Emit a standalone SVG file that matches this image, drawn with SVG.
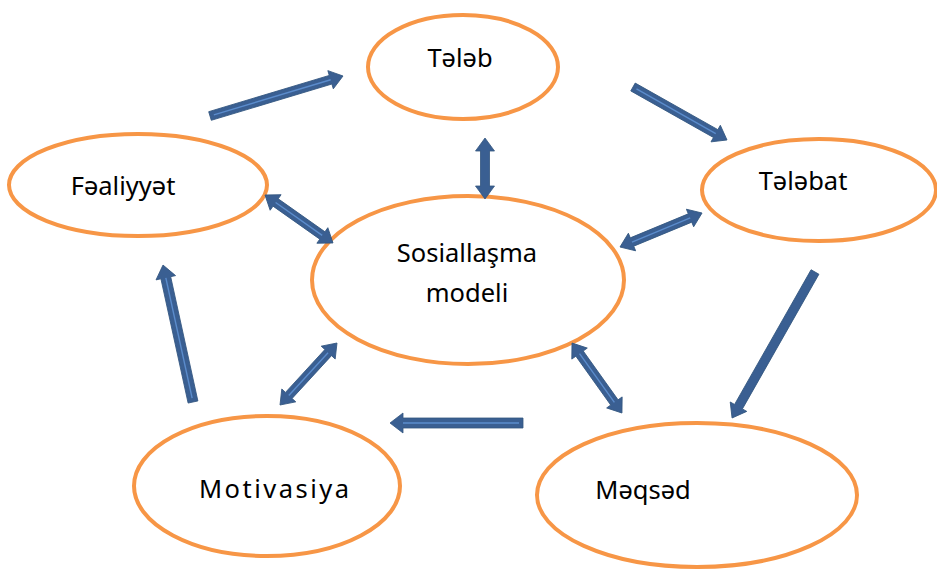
<svg xmlns="http://www.w3.org/2000/svg" width="937" height="573" viewBox="0 0 937 573">
<style>
.node ellipse{fill:#fff;stroke:#f79646;stroke-width:4}
.node text{font-family:"Noto Sans","Open Sans","Liberation Sans",sans-serif;font-size:25.5px;fill:#000;text-anchor:middle}
.arr polygon{fill:#3a5f92;stroke:#33567f;stroke-width:0.8}
.arr line{stroke:#5b8ccc;stroke-width:1.4}
</style>
<rect width="937" height="573" fill="#fff"/>
<g id="talab" class="node"><ellipse cx="463" cy="67" rx="95" ry="52"/><text x="460" y="67">Tələb</text></g>
<g id="faaliyyat" class="node"><ellipse cx="138" cy="185" rx="129" ry="51"/><text x="123" y="195">Fəaliyyət</text></g>
<g id="talabat" class="node"><ellipse cx="819" cy="190" rx="117" ry="51"/><text x="803" y="190">Tələbat</text></g>
<g id="sosial" class="node"><ellipse cx="468" cy="280" rx="156" ry="84"/><text x="467" y="262">Sosiallaşma</text><text x="467" y="302">modeli</text></g>
<g id="motivasiya" class="node"><ellipse cx="267" cy="486" rx="133" ry="70"/><text x="274" y="498" font-size="27" textLength="150" lengthAdjust="spacing">Motivasiya</text></g>
<g id="maqsad" class="node"><ellipse cx="697" cy="495" rx="160" ry="72"/><text x="643" y="499">Məqsəd</text></g>
<g id="connectors" class="arr">
<g transform="translate(210,116) rotate(-16.74)"><polygon points="0,-4.5 125.9,-4.5 125.9,-9.5 138.9,0 125.9,9.5 125.9,4.5 0,4.5"/><line x1="4" y1="0" x2="126" y2="0"/></g>
<g transform="translate(265,195) rotate(35.2)"><polygon points="0,0 13,-9.5 13,-4.5 70.2,-4.5 70.2,-9.5 83.2,0 70.2,9.5 70.2,4.5 13,4.5 13,9.5"/><line x1="13" y1="0" x2="70" y2="0"/></g>
<g transform="translate(485,138) rotate(90)"><polygon points="0,0 13,-9.5 13,-4.5 48,-4.5 48,-9.5 61,0 48,9.5 48,4.5 13,4.5 13,9.5"/></g>
<g transform="translate(633,87) rotate(29.4)"><polygon points="0,-4.5 94.9,-4.5 94.9,-9.5 107.9,0 94.9,9.5 94.9,4.5 0,4.5"/><line x1="4" y1="0" x2="95" y2="0"/></g>
<g transform="translate(620,247) rotate(-22.5)"><polygon points="0,0 13,-9.5 13,-4.5 75.8,-4.5 75.8,-9.5 88.8,0 75.8,9.5 75.8,4.5 13,4.5 13,9.5"/><line x1="13" y1="0" x2="76" y2="0"/></g>
<g transform="translate(815,272) rotate(119.6)"><polygon points="0,-4.5 154.9,-4.5 154.9,-9.5 167.9,0 154.9,9.5 154.9,4.5 0,4.5"/></g>
<g transform="translate(572,343) rotate(54.5)"><polygon points="0,0 13,-9.5 13,-4.5 73,-4.5 73,-9.5 86,0 73,9.5 73,4.5 13,4.5 13,9.5"/><line x1="13" y1="0" x2="73" y2="0"/></g>
<g transform="translate(523,423) rotate(180)"><polygon points="0,-5 120,-5 120,-10 133,0 120,10 120,5 0,5"/><line x1="4" y1="0" x2="120" y2="0"/></g>
<g transform="translate(280,405) rotate(-47.4)"><polygon points="0,0 13,-9.5 13,-4.5 71.2,-4.5 71.2,-9.5 84.2,0 71.2,9.5 71.2,4.5 13,4.5 13,9.5"/><line x1="13" y1="0" x2="71" y2="0"/></g>
<g transform="translate(193,402) rotate(-102.35)"><polygon points="0,-5 127.2,-5 127.2,-10 140.2,0 127.2,10 127.2,5 0,5"/><line x1="4" y1="0" x2="127" y2="0"/></g>
</g>
</svg>
